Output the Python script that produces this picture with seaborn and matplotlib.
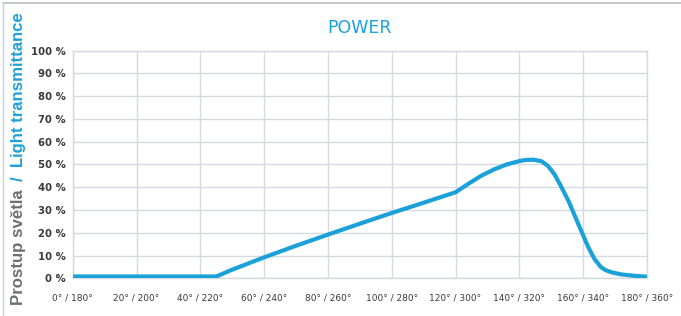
import matplotlib.pyplot as plt
import pandas as pd
import seaborn as sns
from matplotlib.lines import Line2D


# data (angle in degrees, transmittance in %)
angle = [0, 20, 40, 45, 50, 60, 70, 80, 90, 100, 110, 120, 124, 128, 132, 136,
         140, 142, 144.5, 147, 149, 151, 153, 155.5, 157.5, 159.5, 161.5, 163.5,
         165.5, 167, 169, 172, 176, 180]
transmittance = [0.8, 0.8, 0.8, 0.8, 3.8, 9.2, 14.3, 19.2, 24.0, 28.7, 33.2, 37.8,
                 41.5, 45.0, 47.8, 50.0, 51.5, 52.0, 52.1, 51.4, 49.3, 45.7, 40.6,
                 33.7, 27.1, 20.5, 14.0, 8.6, 5.0, 3.6, 2.6, 1.7, 1.1, 0.7]

x_ticks = [0, 20, 40, 60, 80, 100, 120, 140, 160, 180]
x_labels = ['0° / 180°', '20° / 200°', '40° / 220°', '60° / 240°', '80° / 260°',
            '100° / 280°', '120° / 300°', '140° / 320°', '160° / 340°', '180° / 360°']
y_ticks = list(range(0, 101, 10))
y_labels = [f'{v} %' for v in y_ticks]

blue = '#1ba1da'
grid_col = '#d6d9de'

df = pd.DataFrame({'angle': angle, 'value': transmittance})

sns.set_style('white')
plt.rcParams['font.family'] = ['DejaVu Sans']

fig = plt.figure(figsize=(6.81, 3.16), dpi=100)
ax = fig.add_axes([0.1068, 0.1193, 0.8432, 0.7203])

sns.lineplot(data=df, x='angle', y='value', ax=ax, color=blue, linewidth=3.0,
             solid_capstyle='butt', zorder=3)

ax.set_xlim(0, 180)
ax.set_ylim(0, 100)
ax.set_xticks(x_ticks)
ax.set_xticklabels(x_labels, fontsize=6.5, color='#3a3a3a')
ax.set_yticks(y_ticks)
ax.set_yticklabels(y_labels, fontsize=7.3, color='#3a3a3a', fontweight='bold')
ax.tick_params(axis='x', length=0, pad=11)
ax.tick_params(axis='y', length=0, pad=5)
ax.grid(True, color=grid_col, linewidth=1.0)
for s in ax.spines.values():
    s.set_color(grid_col)
    s.set_linewidth(1.0)
ax.set_xlabel('')
ax.set_ylabel('')

fig.text(0.528, 0.91, 'POWER', ha='center', va='center', fontsize=12.5,
         color=blue, fontweight='medium')

# two-colour vertical axis label, sized so it runs from bottom to top edge
label_font = ['Liberation Sans', 'DejaVu Sans']
H = fig.bbox.height


def place_label(size):
    a = fig.text(0.027, 0.035, 'Prostup světla', rotation=90, ha='center', va='bottom',
                 fontsize=size, color='#6d6e70', fontweight='bold', family=label_font)
    fig.canvas.draw()
    y_next = (a.get_window_extent().y1 + 0.7 * size) / H
    b = fig.text(0.027, y_next, '/  Light transmittance', rotation=90, ha='center',
                 va='bottom', fontsize=size, color=blue, fontweight='bold',
                 family=label_font)
    fig.canvas.draw()
    return a, b


t1, t2 = place_label(12)
span = t2.get_window_extent().y1 - t1.get_window_extent().y0
t1.remove()
t2.remove()
place_label(12 * 292 / span)

# frame lines at the top and left edge
fig.add_artist(Line2D([0.004, 1.0], [0.989, 0.989], transform=fig.transFigure,
                      color='#b9c1c5', linewidth=1.2))
fig.add_artist(Line2D([0.004, 0.004], [0.0, 0.989], transform=fig.transFigure,
                      color='#c9cfd2', linewidth=1.0))

fig.savefig('out.png', dpi=100)
